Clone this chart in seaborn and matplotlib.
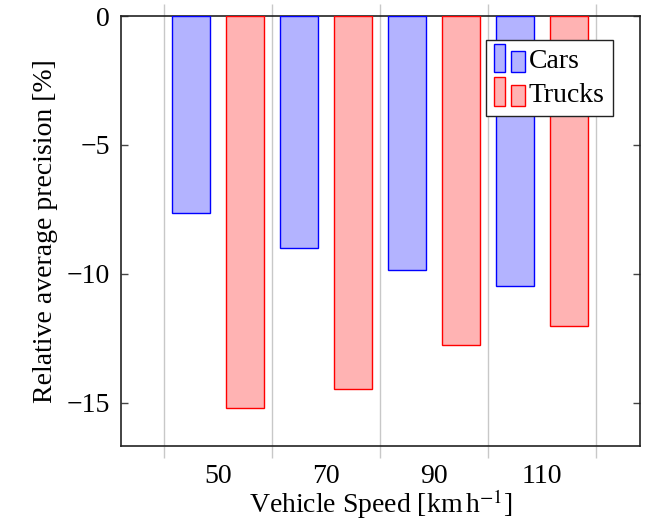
import pandas as pd
import seaborn as sns
import matplotlib.pyplot as plt
from matplotlib.patches import Rectangle
from matplotlib.legend_handler import HandlerBase

speeds = ['50', '70', '90', '110']
cars = [-7.64, -8.99, -9.85, -10.47]
trucks = [-15.2, -14.47, -12.75, -12.0]

df = pd.DataFrame({
    'speed': speeds * 2,
    'value': cars + trucks,
    'type': ['Cars'] * 4 + ['Trucks'] * 4,
})

sns.set_style('ticks')
plt.rcParams['font.family'] = ['Liberation Serif', 'DejaVu Serif']
plt.rcParams['mathtext.fontset'] = 'stix'
plt.rcParams['text.color'] = 'black'
plt.rcParams['axes.labelcolor'] = 'black'
plt.rcParams['xtick.labelcolor'] = 'black'
plt.rcParams['ytick.labelcolor'] = 'black'

fills = {'Cars': '#b3b3ff', 'Trucks': '#ffb3b3'}
edges = {'Cars': '#0000ff', 'Trucks': '#ff0000'}
fs = 20

fig = plt.figure(figsize=(6.46, 5.23), dpi=100)
ax = fig.add_axes([0.1873, 0.1472, 0.8034, 0.8222])

sns.barplot(data=df, x='speed', y='value', hue='type', order=speeds,
            palette=fills, saturation=1, width=1.0, gap=0.3, ax=ax,
            legend=False, zorder=3)

for cont, name in zip(ax.containers, ['Cars', 'Trucks']):
    for p in cont:
        p.set_edgecolor(edges[name])
        p.set_linewidth(1.0)

ax.set_xlim(-0.898, 3.907)
ax.set_ylim(-16.67, 0)
ax.set_yticks([0, -5, -10, -15])
ax.set_xticks([-0.5, 0.5, 1.5, 2.5, 3.5], minor=True)
ax.grid(True, which='minor', axis='x', color='#c8c8c8', linewidth=1.0, zorder=0)
ax.tick_params(axis='x', which='major', length=0, labelsize=fs, pad=13)
ax.tick_params(axis='x', which='minor', direction='out', length=8.5,
               color='#c8c8c8', width=1.0, top=True, bottom=True)
ax.tick_params(axis='y', direction='in', length=5, width=1.0, color='#444444',
               left=True, right=True, labelsize=fs, pad=8)
for s in ax.spines.values():
    s.set_visible(True)
    s.set_color('#222222')
    s.set_linewidth(1.2)

ax.set_xlabel(r'Vehicle Speed [km$\,$h$^{-1}$]', fontsize=fs, labelpad=-1)
ax.set_ylabel('Relative average precision [%]', fontsize=fs, labelpad=6)


class BarPairHandler(HandlerBase):
    def create_artists(self, legend, orig_handle, xdescent, ydescent,
                       width, height, fontsize, trans):
        fc = orig_handle.get_facecolor()
        ec = orig_handle.get_edgecolor()
        x0 = -xdescent
        y0 = -ydescent - height * 0.2
        r1 = Rectangle((x0, y0), width * 0.36, height * 1.45,
                       facecolor=fc, edgecolor=ec, lw=1.0, transform=trans)
        r2 = Rectangle((x0 + width * 0.55, y0), width * 0.45, height * 1.05,
                       facecolor=fc, edgecolor=ec, lw=1.0, transform=trans)
        return [r1, r2]


handles = [Rectangle((0, 0), 1, 1, facecolor=fills[k], edgecolor=edges[k])
           for k in ['Cars', 'Trucks']]
leg = ax.legend(handles, ['Cars', 'Trucks'], loc='upper right',
                bbox_to_anchor=(0.948, 0.944), borderaxespad=0,
                handler_map={Rectangle: BarPairHandler()},
                fontsize=fs, handlelength=1.1, handletextpad=0.15,
                labelspacing=0.3, borderpad=0.3, fancybox=False,
                framealpha=1, edgecolor='#222222')
leg.get_frame().set_linewidth(1.0)
for t in leg.get_texts():
    t.set_ha('center')

fig.savefig('out.png', dpi=100)
